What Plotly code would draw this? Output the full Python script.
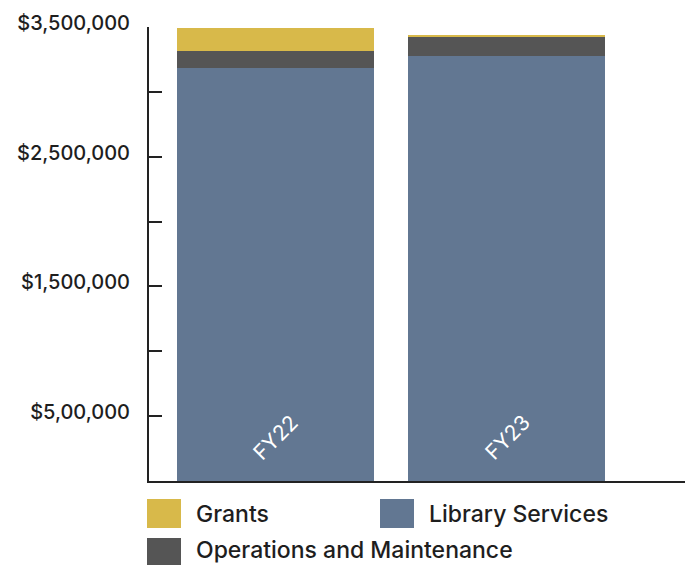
import plotly.graph_objects as go

categories = ["FY22", "FY23"]
library_services = [3185000, 3276000]
operations = [129000, 154000]
grants = [178000, 8000]

tick_values = [0, 500000, 1000000, 1500000, 2000000, 2500000, 3000000, 3500000]
tick_labels = ["", "$5,00,000", "", "$1,500,000", "", "$2,500,000", "", "$3,500,000"]

series = [
    ("Library Services", library_services, "#627792"),
    ("Operations and Maintenance", operations, "#555555"),
    ("Grants", grants, "#D8B94A"),
]

OFF = 8  # page body margin
W, H = 693 - OFF, 565 - OFF
ML, MR, MT, MB = 149 - OFF, 0, 27 - OFF, 84
PW, PH = W - ML - MR, H - MT - MB

def px_x(px):
    return (px - OFF - ML) / PW

def px_y(py):
    return (H - MB - (py - OFF)) / PH

fig = go.Figure()
for name, vals, col in series:
    fig.add_trace(go.Bar(x=categories, y=vals, name=name, marker_color=col,
                         marker_line_width=0, width=0.85, showlegend=False))

annotations = []
for c in categories:
    annotations.append(dict(x=c, y=0, xref="x", yref="y", text=c, showarrow=False,
                            textangle=-45, yshift=44, yanchor="middle",
                            font=dict(family="Inter", size=21, color="white")))

legend_items = [
    ("Grants", "#D8B94A", 147, 499, 14.5),
    ("Library Services", "#627792", 380, 499, 14.5),
    ("Operations and Maintenance", "#555555", 147, 538, 12),
]
shapes = []
for name, col, lx, ly, dy in legend_items:
    shapes.append(dict(type="rect", xref="paper", yref="paper",
                       x0=px_x(lx), x1=px_x(lx + 34), y0=px_y(ly), y1=px_y(ly + 29),
                       fillcolor=col, line_width=0))
    annotations.append(dict(x=px_x(lx + 48), y=px_y(ly + dy), xref="paper", yref="paper",
                            text=name, showarrow=False, xanchor="left", yanchor="middle",
                            borderpad=0,
                            font=dict(family="Inter", size=23, color="#1e1e1e", weight=500)))

fig.update_layout(
    barmode="stack",
    width=W, height=H,
    margin=dict(l=ML, r=MR, t=MT, b=MB),
    plot_bgcolor="white", paper_bgcolor="white",
    shapes=shapes, annotations=annotations,
    bargap=0,
    xaxis=dict(range=[-0.5445, 1.803], showticklabels=False, ticks="",
               showline=True, linecolor="#222222", linewidth=2, showgrid=False,
               zeroline=False, fixedrange=True),
    yaxis=dict(range=[0, 3500000], tickvals=tick_values, ticktext=tick_labels,
               ticks="inside", ticklen=13, tickwidth=2, tickcolor="#222222",
               showline=True, linecolor="#222222", linewidth=2, showgrid=False,
               zeroline=False, ticklabelstandoff=13, ticklabelshift=-4,
               tickfont=dict(family="Inter", size=20, color="#1e1e1e", weight=500)),
)

fig.write_html("out.html")
